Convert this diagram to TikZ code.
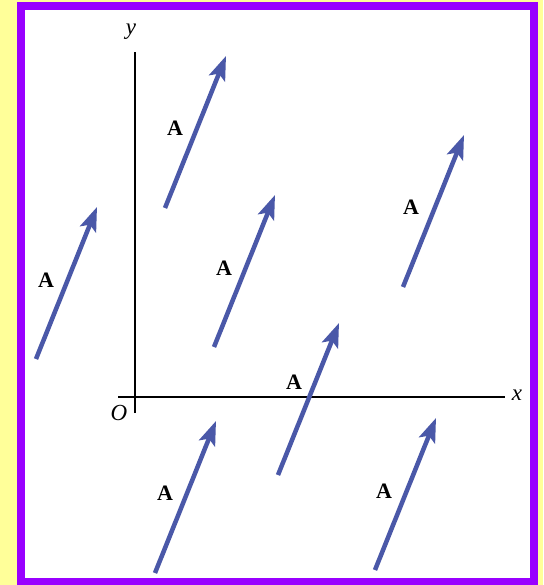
\documentclass[tikz,border=0pt]{standalone}
\usepackage{fontspec}
\setmainfont{Liberation Serif}
\usetikzlibrary{arrows.meta}
\definecolor{bgyellow}{HTML}{FFFF99}
\definecolor{framepurple}{HTML}{9900FF}
\definecolor{vecblue}{HTML}{4A58A8}
\begin{document}
\begin{tikzpicture}[x=1pt,y=-1pt,
  vec/.style={draw=vecblue,line width=4.5pt,-{Stealth[length=24pt,width=17pt,inset=5pt]}},
  vlabel/.style={font=\fontsize{22}{24}\selectfont\bfseries,inner sep=0pt},
  axis/.style={draw=black,line width=1.8pt},
  alabel/.style={font=\fontsize{23}{25}\selectfont\itshape,inner sep=0pt}]
\fill[bgyellow] (0,0) rectangle (543,585);
\useasboundingbox (0,0) rectangle (543,585);
\fill[white] (21,6) rectangle (534,582);
\draw[framepurple,line width=8pt] (21,6) rectangle (534,582);
% axes
\coordinate (yt) at (135,52);
\coordinate (yb) at (135,413);
\coordinate (xl) at (118,397);
\coordinate (xr) at (505,397);
\draw[axis] (yb) -- (yt);
\draw[axis] (xl) -- (xr);
\node[alabel] (ylab) at (131,32) {y};
\node[alabel] (xlab) at (517,395) {x};
\node[alabel] (olab) at (119,413) {O};
% vectors
\foreach \n/\tx/\ty/\lx/\ly in {a/165/208/175/128, b/36/359/46/280, c/214/347/224/268, d/403/287/411/207, e/278/475/294/382, f/155/573/165/493, g/375/570/384/491}{
  \coordinate (\n t) at (\tx,\ty);
  \coordinate (\n h) at ({\tx+61},{\ty-152});
  \draw[vec] (\n t) -- (\n h);
  \node[vlabel] (\n l) at (\lx,\ly) {A};
}
\end{tikzpicture}
\end{document}
